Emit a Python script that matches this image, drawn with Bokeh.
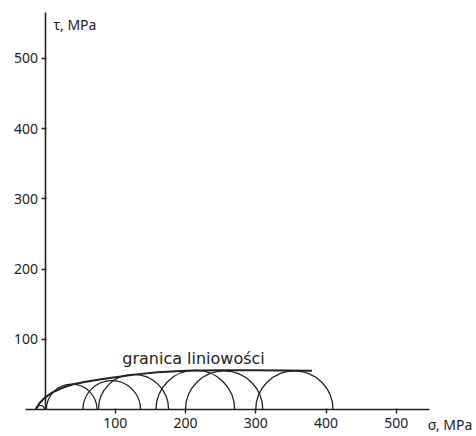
import numpy as np
from bokeh.plotting import figure
from bokeh.models import ColumnDataSource, FixedTicker, Label
from bokeh.embed import file_html
from bokeh.resources import INLINE

# ---- data (MPa) ----
circle_centers = [-7, 38, 95, 126, 214, 255, 355]
circle_radii = [6, 36, 41, 50, 56, 55, 55]
env_sigma = [-13, -8, 0, 10, 25, 40, 60, 80, 100, 130, 160, 200, 250, 300, 380]
env_tau = [0, 9, 17, 24, 31, 36, 40, 43, 46, 50, 53, 55, 56, 56, 55]
x_ticks = [100, 200, 300, 400, 500]
y_ticks = [100, 200, 300, 400, 500]
envelope_label = "granica liniowości"
x_label = "σ, MPa"
y_label = "τ, MPa"

# ---- layout ----
W, H = 476, 436
SCALE = 0.7025            # px per MPa (equal on both axes)
X0_PX, Y0_PX = 44.5, 409  # canvas position of the origin
x_start = (0 - X0_PX) / SCALE
x_end = x_start + W / SCALE
y_end = (Y0_PX - 0) / SCALE
y_start = y_end - H / SCALE

INK = "#222222"
FONT = "Noto Sans"

p = figure(width=W, height=H, output_backend="svg", toolbar_location=None,
           x_range=(x_start, x_end), y_range=(y_start, y_end),
           min_border=0, min_border_left=0, min_border_right=0,
           min_border_top=0, min_border_bottom=0)
p.outline_line_color = None
p.grid.visible = False
p.background_fill_color = "white"
p.border_fill_color = "white"

for ax, ticks in ((p.xaxis[0], x_ticks), (p.yaxis[0], y_ticks)):
    ax.fixed_location = 0
    ax.ticker = FixedTicker(ticks=ticks)
    ax.axis_line_color = INK
    ax.axis_line_width = 1.6
    ax.major_tick_line_color = INK
    ax.major_tick_line_width = 1.4
    ax.major_tick_out = 4
    ax.major_tick_in = 1
    ax.minor_tick_line_color = None
    ax.major_label_text_font = FONT
    ax.major_label_text_font_size = "14px"
    ax.major_label_text_color = INK

p.xaxis[0].bounds = (-28, 547)
p.yaxis[0].bounds = (0, 565)
p.xaxis[0].major_label_standoff = 4
p.yaxis[0].major_label_standoff = 3

src = ColumnDataSource(dict(x=circle_centers, y=[0] * len(circle_centers), r=circle_radii))
p.arc(x="x", y="y", radius="r", start_angle=0, end_angle=np.pi, source=src,
      line_color=INK, line_width=1.3)

p.line(env_sigma, env_tau, line_color=INK, line_width=2)

p.add_layout(Label(x=110, y=72, text=envelope_label, text_font="DejaVu Sans",
                   text_font_size="16px", text_color=INK, text_baseline="alphabetic"))
p.add_layout(Label(x=545, y=-22, text=x_label, text_font=FONT,
                   text_font_size="14px", text_color=INK, text_baseline="alphabetic"))
p.add_layout(Label(x=12, y=548, text=y_label, text_font=FONT,
                   text_font_size="14px", text_color=INK, text_baseline="alphabetic"))

open("out.html", "w").write(file_html(p, INLINE))
